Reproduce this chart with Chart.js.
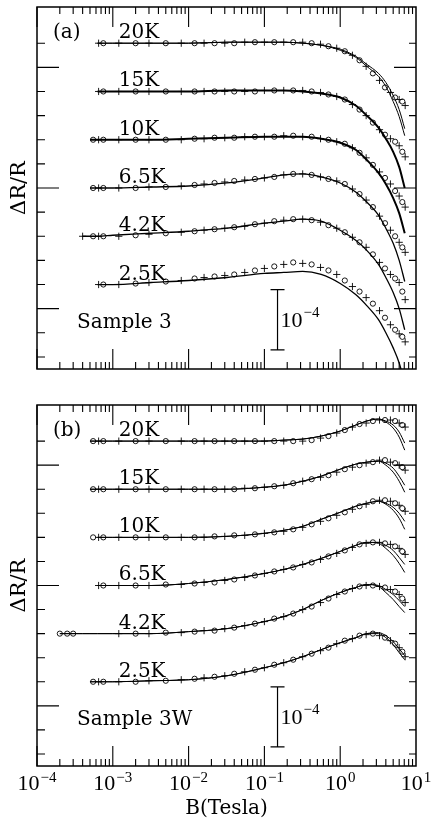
<!DOCTYPE html>
<html>
<head>
<meta charset="utf-8">
<script src="https://cdn.jsdelivr.net/npm/chart.js@4.4.1/dist/chart.umd.min.js"></script>
<style>
  html, body { margin: 0; padding: 0; background: #fff; }
  #wrap { position: relative; width: 435px; height: 822px; }
  canvas { position: absolute; left: 0; }
  #chartA { top: 0; }
  #chartB { top: 400px; }
</style>
</head>
<body>
<div id="wrap">
  <canvas id="chartA" width="435" height="400"></canvas>
  <canvas id="chartB" width="435" height="422"></canvas>
</div>
<script>
const n = null;

// plot unit = ΔR/R x 6e5, so 60 units = 1e-4 (the scale bar)
const temps = ['20K', '15K', '10K', '6.5K', '4.2K', '2.5K'];
const offsets = [324, 276, 228, 180, 132, 84];
const yTicks = [12, 36, 60, 84, 108, 132, 156, 180, 204, 228, 252, 276, 300, 324];
const yMajorTicks = [60, 180, 300];
const xExponents = ['\u22124', '\u22123', '\u22122', '\u22121', '0', '1'];

// fields (Tesla) of the fitted curves
const fitFields = [2e-4, 4e-4, 5e-4, 6.3e-4, 1e-3, 3.2e-3, 0.01, 0.032, 0.1, 0.18, 0.32, 0.56, 1, 1.6, 2.24, 3.2, 4, 5, 6, 7.1];
// fields (Tesla) of the measured points, and their symbol
const markFields = [2e-4, 2.5e-4, 3e-4, 4e-4, 5.5e-4, 6.5e-4, 7.5e-4, 1.2e-3, 2e-3, 3e-3, 5e-3, 8e-3, 0.012, 0.016, 0.022, 0.03, 0.04, 0.055, 0.075, 0.1,
  0.135, 0.18, 0.24, 0.32, 0.42, 0.55, 0.7, 0.9, 1.15, 1.45, 1.8, 2.2, 2.7, 3.3, 3.9, 4.6, 5.3, 6.0, 6.6, 7.2];
const markSymbols = ['circle', 'circle', 'circle', 'cross', 'circle', 'cross', 'circle', 'cross', 'circle', 'cross', 'circle', 'cross', 'circle', 'cross',
  'circle', 'cross', 'circle', 'cross', 'circle', 'cross', 'circle', 'cross', 'circle', 'cross', 'circle', 'cross', 'circle', 'cross', 'circle', 'cross',
  'circle', 'cross', 'circle', 'cross', 'circle', 'cross', 'circle', 'cross', 'circle', 'cross'];

// Sample 3 : fits
const fitA20 = [n, n, n, 0, 0, 0, 0, 1, 1, 1, 0, -2, -7, -14, -23, -33, -43, -58, -73, -92];
const fitA20b = [n, n, n, 0, 0, 0, 0, 1, 1, 1, 0, -2, -6, -13, -21, -30, -39, -52, -66, -85];
const fitA15 = [n, n, n, 0, 0, 0, 0, 1, 1, 1, 0, -2, -6, -14, -24, -36, -47, -60, -75, -96];
const fitA10 = [n, n, 0, 0, 0, 0, 1, 2, 3, 3, 3, 1, -3, -10, -20, -33, -44, -58, -73, -93];
const fitA65 = [n, n, 0, 0, 0, 1, 2, 5, 10, 13, 14, 11, 5, -4, -14, -27, -40, -55, -72, -93];
const fitA42 = [n, 0, 0, 0, 1, 3, 5, 8, 13, 15, 17, 15, 6, -4, -14, -28, -41, -56, -72, -93];
const fitA25 = [n, n, n, 0, 0, 2, 4, 7, 11, 12, 13, 10, 1, -10, -21, -35, -48, -63, -78, -98];

// Sample 3 : measured
const markA20 = [n, n, n, n, n, 0, 0, 0, 0, 0, 0, 0, 0, 0, 0, 0, 0, 1, 1, 1, 1, 1, 1, 1,
  0, -1, -3, -5, -8, -12, -17, -23, -30, -37, -44, -49, -54, -56, -58, -62];
const markA15 = [n, n, n, n, n, 0, 0, 0, 0, 0, 0, 0, 0, 0, 0, 0, 0, 0, 0, 1, 1, 1, 1, 1,
  0, -1, -3, -5, -8, -13, -18, -24, -31, -38, -43, -47, -50, -54, -60, -65];
const markA10 = [n, n, n, n, 0, 0, 0, 0, 0, 0, 0, 0, 1, 1, 2, 2, 2, 3, 3, 3, 3, 4, 4, 3, 3,
  1, 0, -2, -4, -8, -13, -18, -25, -32, -38, -44, -51, -56, -62, -67];
const markA65 = [n, n, n, n, 0, 0, 0, 0, 0, 1, 1, 2, 3, 4, 5, 6, 7, 8, 9, 10, 11, 13, 14, 14, 13, 11, 9, 7, 4,
  -1, -6, -12, -19, -28, -35, -42, -48, -54, -59, -64];
const markA42 = [n, n, n, 0, 0, 0, 0, 0, 1, 2, 3, 4, 5, 6, 7, 8, 9, 10, 12, 13, 15, 16, 17, 17, 16, 14, 11, 8, 4,
  -1, -6, -11, -18, -26, -32, -38, -42, -46, -55, -63];
const markA25 = [n, n, n, n, n, 0, 0, 0, 1, 2, 3, 4, 6, 7, 8, 9, 10, 12, 14, 16, 18, 20, 22, 21, 20, 17, 14, 10, 4,
  -2, -7, -13, -19, -26, -33, -40, -45, -49, -52, -57];

// Sample 3W : fits
const fitB20 = [n, n, 0, 0, 0, 0, 0, 0, 0, 1, 2, 5, 10, 16, 20, 22, 19, 13, 4, -9];
const fitB20b = [n, n, 0, 0, 0, 0, 0, 0, 0, 1, 2, 5, 10, 16, 20, 22, 20, 16, 9, -2];
const fitB15 = [n, n, 0, 0, 0, 0, 0, 0, 2, 4, 8, 13, 20, 25, 27, 28, 24, 17, 8, -3];
const fitB15b = [n, n, 0, 0, 0, 0, 0, 0, 2, 4, 8, 13, 20, 25, 27, 28, 26, 21, 13, 4];
const fitB10 = [n, n, n, 0, 0, 0, 0, 1, 4, 7, 11, 18, 25, 31, 34, 36, 33, 27, 19, 8];
const fitB10b = [n, n, n, 0, 0, 0, 0, 1, 4, 7, 11, 18, 25, 31, 34, 36, 34, 30, 24, 16];
const fitB65 = [n, n, n, 0, 0, 0, 2, 6, 12, 16, 21, 27, 34, 40, 43, 42, 37, 30, 22, 13];
const fitB65b = [n, n, n, 0, 0, 0, 2, 6, 12, 16, 21, 27, 34, 40, 43, 43, 40, 35, 28, 21];
const fitB42 = [0, 0, 0, 0, 0, 0, 2, 5, 12, 17, 24, 33, 41, 46, 49, 47, 41, 34, 27, 21];
const fitB42b = [0, 0, 0, 0, 0, 0, 2, 5, 12, 17, 24, 33, 41, 46, 49, 48, 44, 39, 33, 27];
const fitB25 = [n, n, 0, 0, 0, 1, 2, 6, 14, 19, 25, 32, 39, 44, 48, 48, 44, 37, 29, 22];
const fitB25b = [n, n, 0, 0, 0, 1, 2, 6, 14, 19, 25, 32, 39, 44, 48, 49, 46, 40, 33, 26];

// Sample 3W : measured
const markB20 = [n, n, n, n, 0, 0, 0, 0, 0, 0, 0, 0, 0, 0, 0, 0, 0, 0, 0, 0, 0, 0, 0, 0,
  1, 3, 5, 8, 11, 14, 17, 18, 20, 21, 21, 21, 20, 18, 16, 14];
const markB15 = [n, n, n, n, 0, 0, 0, 0, 0, 0, 0, 0, 0, 0, 0, 0, 0,
  1, 1, 2, 3, 4, 6, 8, 10, 12, 14, 17, 20, 22, 24, 26, 27, 29, 29, 27, 26, 24, 22, 19];
const markB10 = [n, n, n, n, 0, 0, 0, 0, 0, 0, 0, 0, 0, 0,
  1, 1, 2, 2, 3, 4, 5, 6, 8, 10, 13, 16, 19, 22, 25, 28, 31, 33, 36, 37, 37, 36, 34, 32, 29, 26];
const markB65 = [n, n, n, n, n, 0, 0, 0, 0, 0,
  1, 1, 2, 3, 3, 5, 6, 8, 10, 12, 14, 16, 18, 21, 23, 26, 29, 32, 35, 38, 41, 42, 43, 43, 42, 41, 39, 37, 34, 31];
const markB42 = [0, 0, 0, n, n, n, n, 0, 0, 0,
  1, 1, 2, 3, 3, 5, 6, 8, 10, 12, 15, 17, 20, 24, 27, 31, 35, 39, 42, 45, 47, 48, 48, 47, 46, 44, 42, 39, 35, 31];
const markB25 = [n, n, n, n, 0, 0, 0, 0, 0,
  1, 1, 2, 3, 4, 5, 6, 8, 10, 12, 14, 17, 19, 22, 25, 28, 31, 34, 38, 41, 43, 46, 47, 48, 46, 44, 41, 38, 34, 30, 25];

const panelA = [
  { fits: [fitA20, fitA20b], marks: markA20, width: 1 },
  { fits: [fitA15], marks: markA15, width: 2 },
  { fits: [fitA10], marks: markA10, width: 2 },
  { fits: [fitA65], marks: markA65, width: 1.3 },
  { fits: [fitA42], marks: markA42, width: 1.3 },
  { fits: [fitA25], marks: markA25, width: 1.3 }
];
const panelB = [
  { fits: [fitB20, fitB20b], marks: markB20, width: 1 },
  { fits: [fitB15, fitB15b], marks: markB15, width: 1 },
  { fits: [fitB10, fitB10b], marks: markB10, width: 1 },
  { fits: [fitB65, fitB65b], marks: markB65, width: 1 },
  { fits: [fitB42, fitB42b], marks: markB42, width: 1 },
  { fits: [fitB25, fitB25b], marks: markB25, width: 1 }
];

const serif = '"DejaVu Serif", serif';
const times = '"Liberation Serif", serif';

function buildDatasets(panel) {
  const sets = [];
  panel.forEach((curve, k) => {
    const base = offsets[k];
    curve.fits.forEach(vals => {
      const pts = [];
      vals.forEach((v, i) => { if (v !== null) pts.push({ x: fitFields[i], y: base + v }); });
      sets.push({
        data: pts,
        borderColor: '#000',
        borderWidth: curve.width,
        pointRadius: 0,
        cubicInterpolationMode: 'monotone',
        fill: false
      });
    });
    const pts = [];
    const styles = [];
    curve.marks.forEach((v, i) => {
      if (v !== null) {
        pts.push({ x: markFields[i], y: base + v });
        styles.push(markSymbols[i]);
      }
    });
    sets.push({
      data: pts,
      showLine: false,
      pointStyle: styles,
      pointRadius: styles.map(s => s === 'circle' ? 2.6 : 3.6),
      pointBorderWidth: 0.9,
      pointBorderColor: '#000',
      pointBackgroundColor: 'rgba(0,0,0,0)'
    });
  });
  return sets;
}

// frame, inward ticks and all the text
const framePlugin = {
  id: 'frame',
  afterDraw(chart, args, opts) {
    const { ctx, chartArea: a, scales: { x, y } } = chart;
    ctx.save();
    ctx.strokeStyle = '#000';
    ctx.fillStyle = '#000';
    ctx.lineWidth = 1.5;
    ctx.strokeRect(a.left, a.top, a.right - a.left, a.bottom - a.top);

    ctx.lineWidth = 1.1;
    ctx.beginPath();
    for (let e = -4; e <= 0; e++) {
      for (let m = 1; m <= 9; m++) {
        const px = x.getPixelForValue(m * Math.pow(10, e));
        const len = m === 1 ? 20 : 7;
        ctx.moveTo(px, a.bottom); ctx.lineTo(px, a.bottom - len);
        ctx.moveTo(px, a.top); ctx.lineTo(px, a.top + len);
      }
    }
    yTicks.forEach(v => {
      const py = y.getPixelForValue(v);
      const major = yMajorTicks.includes(v);
      ctx.moveTo(a.left, py); ctx.lineTo(a.left + (major ? 22 : 8), py);
      ctx.moveTo(a.right, py); ctx.lineTo(a.right - (major ? 22 : 7), py);
    });
    ctx.stroke();

    // curve labels
    ctx.font = '20px ' + serif;
    ctx.textAlign = 'left';
    ctx.textBaseline = 'alphabetic';
    temps.forEach((t, k) => {
      ctx.fillText(t, x.getPixelForValue(1.2e-3), y.getPixelForValue(offsets[k] + 5));
    });
    ctx.fillText(opts.panel, a.left + 16, a.top + 31);
    ctx.fillText(opts.sample, a.left + 40, a.bottom - 41);

    // 10^-4 scale bar
    const bx = x.getPixelForValue(0.149);
    const b0 = y.getPixelForValue(19), b1 = y.getPixelForValue(79);
    ctx.lineWidth = 1.2;
    ctx.beginPath();
    ctx.moveTo(bx, b0); ctx.lineTo(bx, b1);
    ctx.moveTo(bx - 7, b0); ctx.lineTo(bx + 7, b0);
    ctx.moveTo(bx - 7, b1); ctx.lineTo(bx + 7, b1);
    ctx.stroke();
    ctx.font = '22px ' + times;
    ctx.fillText('10', bx + 3, y.getPixelForValue(42));
    const w10 = ctx.measureText('10').width;
    ctx.font = '15px ' + times;
    ctx.fillText('\u22124', bx + 4 + w10, y.getPixelForValue(52));

    // axis title
    ctx.save();
    ctx.font = '21px ' + serif;
    ctx.textAlign = 'center';
    ctx.translate(18, (a.top + a.bottom) / 2);
    ctx.rotate(-Math.PI / 2);
    ctx.fillText('\u0394R/R', 0, 7);
    ctx.restore();

    if (opts.xLabels) {
      xExponents.forEach((ex, i) => {
        const px = x.getPixelForValue(Math.pow(10, i - 4));
        ctx.font = '22px ' + times;
        const wb = ctx.measureText('10').width;
        ctx.font = '15px ' + times;
        const we = ctx.measureText(ex).width;
        const left = px - (wb + we + 1) / 2;
        ctx.textAlign = 'left';
        ctx.font = '22px ' + times;
        ctx.fillText('10', left, a.bottom + 24);
        ctx.font = '15px ' + times;
        ctx.fillText(ex, left + wb + 1, a.bottom + 16);
      });
      ctx.font = '20px ' + serif;
      ctx.textAlign = 'center';
      ctx.fillText('B(Tesla)', (a.left + a.right) / 2, a.bottom + 48);
    }
    ctx.restore();
  }
};

function makeOptions(pad, frame) {
  return {
    responsive: false,
    animation: false,
    devicePixelRatio: 1,
    layout: { padding: pad },
    plugins: { legend: { display: false }, tooltip: { enabled: false }, frame: frame },
    scales: {
      x: { type: 'logarithmic', min: 1e-4, max: 10, display: false },
      y: { type: 'linear', min: 0, max: 360, display: false }
    }
  };
}

new Chart(document.getElementById('chartA'), {
  type: 'line',
  data: { datasets: buildDatasets(panelA) },
  options: makeOptions({ left: 37, right: 19, top: 7, bottom: 31 }, { panel: '(a)', sample: 'Sample 3', xLabels: false }),
  plugins: [framePlugin]
});

new Chart(document.getElementById('chartB'), {
  type: 'line',
  data: { datasets: buildDatasets(panelB) },
  options: makeOptions({ left: 37, right: 19, top: 5, bottom: 56 }, { panel: '(b)', sample: 'Sample 3W', xLabels: true }),
  plugins: [framePlugin]
});
</script>
</body>
</html>
